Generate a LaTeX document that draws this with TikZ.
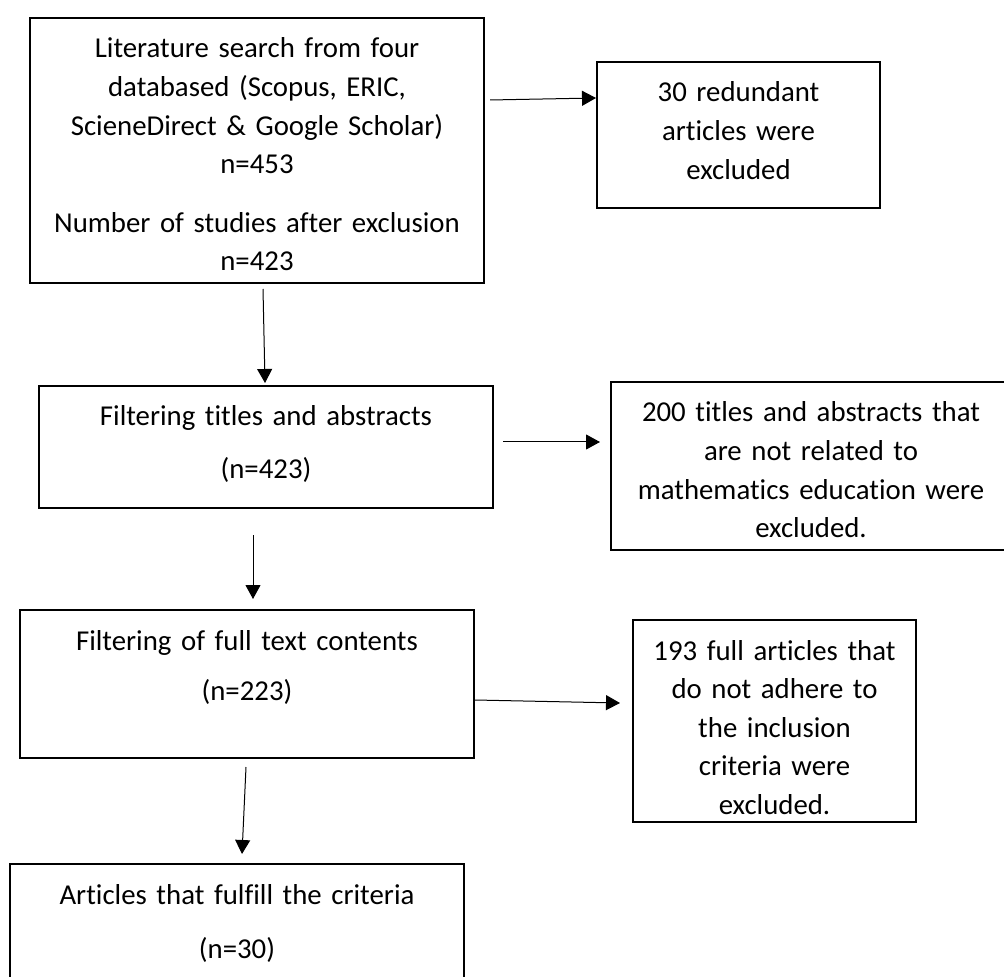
\documentclass[tikz,border=0pt]{standalone}
\usepackage{fontspec}
\setmainfont{Carlito}[RawFeature={-liga;-clig;-dlig;-calt}]
\usetikzlibrary{arrows.meta}

\begin{document}
\begin{tikzpicture}[x=0.5pt,y=0.5pt,font=\fontsize{14.4}{19.3}\selectfont,
  bx/.style={draw,line width=1pt,anchor=north west,align=center,inner xsep=2pt,inner ysep=0pt,text height=20pt},
  arr/.style={-{Triangle[length=7pt,width=7.5pt]},line width=0.5pt}]
  \useasboundingbox (0,0) rectangle (1004,-977);
  \node[bx,text width=223pt,text depth=112.5pt](search) at (29,-17){Literature search from four\\databased (Scopus, ERIC,\\ScieneDirect \& Google Scholar)\\n=453\\[10pt]Number of studies after exclusion\\n=423};
  \node[bx,text width=137.5pt,text depth=53pt](redundant) at (596,-61){30 redundant\\articles were\\excluded};
  \node[bx,text width=223pt,text depth=41pt](titles) at (38,-385){Filtering titles and abstracts\\[7.2pt](n=423)};
  \node[bx,text width=196pt,text depth=64pt](unrelated) at (610,-381){200 titles and abstracts that\\are not related to\\mathematics education were\\excluded.};
  \node[bx,text width=223pt,text depth=54pt](fulltext) at (19,-609){Filtering of full text contents\\[5.7pt](n=223)};
  \node[bx,text width=137.5pt,text depth=81pt](nonadhere) at (632,-619){193 full articles that\\do not adhere to\\the inclusion\\criteria were\\excluded.};
  \node[bx,text width=223pt,text depth=40pt](final) at (9,-863){Articles that fulfill the criteria\\[7.7pt](n=30)};
  \draw[arr]([xshift=2.5pt,yshift=25.25pt]search.east)--([yshift=18.5pt]redundant.west);
  \draw[arr]([xshift=3pt,yshift=-2.5pt]search.south)--([xshift=-0.5pt,yshift=1pt]titles.north);
  \draw[arr]([xshift=4.5pt,yshift=2.5pt]titles.east)--([xshift=-5pt,yshift=12pt]unrelated.west);
  \draw[arr]([xshift=-6.5pt,yshift=-13pt]titles.south)--([xshift=3pt,yshift=5pt]fulltext.north);
  \draw[arr]([yshift=-8pt]fulltext.east)--([xshift=-6pt,yshift=9pt]nonadhere.west);
  \draw[arr]([xshift=-0.5pt,yshift=-4pt]fulltext.south)--([xshift=2.5pt,yshift=4.5pt]final.north);
\end{tikzpicture}
\end{document}
